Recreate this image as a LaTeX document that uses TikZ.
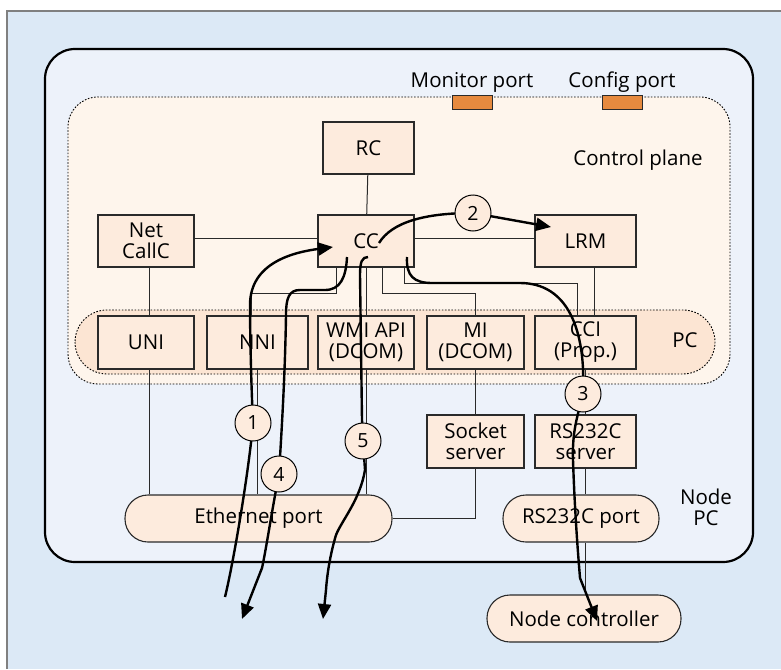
\documentclass[tikz,border=0pt]{standalone}
\usepackage{fontspec}
\setmainfont{Open Sans}
\usetikzlibrary{arrows.meta}
\definecolor{bgblue}{HTML}{DCE9F6}
\definecolor{pcblue}{HTML}{EDF2FA}
\definecolor{cream}{HTML}{FEF5EC}
\definecolor{lane}{HTML}{FCE5D3}
\definecolor{boxfill}{HTML}{FDEBDD}
\definecolor{portor}{HTML}{E68A3F}
\definecolor{edge}{HTML}{2A2A2A}
\tikzset{
  box/.style={draw=edge, fill=boxfill, line width=1.1pt, minimum height=52pt,
    align=center, inner sep=0pt},
  pill/.style={draw=edge, fill=boxfill, line width=1.1pt, minimum height=47pt,
    rounded corners=23pt, inner sep=0pt},
  numc/.style={circle, draw=black, fill=boxfill, line width=1pt,
    minimum size=36pt, inner sep=0pt, font=\fontsize{19.5}{21}\selectfont},
  portbox/.style={draw=edge, fill=portor, line width=0.9pt, minimum width=40pt,
    minimum height=14pt, inner sep=0pt},
  link/.style={draw=edge, line width=1pt},
  flow/.style={draw=black, line width=2.4pt},
  flowarr/.style={flow, -{Triangle[length=15pt,width=13pt]}},
  dotline/.style={draw=black, line width=0.9pt, dash pattern=on 1.6pt off 1.6pt},
}
\begin{document}
\begin{tikzpicture}[x=1pt,y=-1pt,font=\fontsize{20.5}{21}\selectfont]
\useasboundingbox (0,0) rectangle (781,669);

% outer panel
\fill[bgblue] (7,11) rectangle (781,669);
\draw[gray, line width=1.2pt] (7,669) -- (7,11) -- (781,11);

% node PC, control plane and the PC lane
\draw[line width=2.2pt, fill=pcblue, rounded corners=30pt] (45,49) rectangle (753,562);
\draw[dotline, fill=cream, rounded corners=30pt] (68,97) rectangle (730,384);
\draw[dotline, fill=lane, rounded corners=32pt] (75,310) rectangle (715,374);

% ports on the top edge of the control plane
\node[portbox] (mport) at (472,102) {};
\node[portbox] (cport) at (622,102) {};
\node (mportlbl) at (472,82) {Monitor port};
\node (cportlbl) at (622,82) {Config port};
\node (cplbl) at (638,160) {Control plane};
\node (pclbl) at (685,340) {PC};
\node[align=center] (npclbl) at (706,507) {Node\\PC};

% functional blocks
\node[box, minimum width=91pt] (rc) at (368.5,148) {RC};
\node[box, minimum width=96pt] (ncc) at (146,241) {Net\\CallC};
\node[box, minimum width=96pt] (cc) at (366,241) {CC};
\node[box, minimum width=101pt] (lrm) at (585.5,241) {LRM};
\node[box, minimum width=96pt, minimum height=53pt] (uni) at (146,342.5) {UNI};
\node[box, minimum width=101pt, minimum height=53pt] (nni) at (257.5,342.5) {NNI};
\node[box, minimum width=96pt, minimum height=53pt] (wmi) at (366,342.5) {WMI API\\(DCOM)};
\node[box, minimum width=97pt, minimum height=53pt] (mi) at (475.5,342.5) {MI\\(DCOM)};
\node[box, minimum width=101pt, minimum height=53pt] (cci) at (585.5,342.5) {CCI\\(Prop.)};
\node[box, minimum width=97pt, minimum height=53pt] (sock) at (475.5,441.5) {Socket\\server};
\node[box, minimum width=101pt, minimum height=53pt] (rss) at (585.5,441.5) {RS232C\\server};
\node[pill, minimum width=267pt] (eth) at (258.5,518.5) {Ethernet port};
\node[pill, minimum width=156pt] (rsp) at (581,518.5) {RS232C port};
\node[pill, minimum width=194pt] (nctl) at (584,618.5) {Node controller};

% internal links
\draw[link] (rc) -- (cc);
\draw[link] ([yshift=3pt]ncc.east) -- ([yshift=3pt]cc.west);
\draw[link] ([yshift=3pt]cc.east) -- ([yshift=3pt]lrm.west);
\draw[link] ([xshift=3pt]ncc.south) -- ([xshift=3pt]uni.north);
\draw[link] ([xshift=8.5pt]lrm.south) -- ([xshift=8.5pt]cci.north);
\draw[link] ([xshift=19pt]cc.south west) -- ++(0,26) -| ([xshift=-6pt]nni.north);
\draw[link] (cc.south) -- (wmi.north);
\draw[link] ([xshift=65pt]cc.south west) -- ++(0,26) -| (mi.north);
\draw[link] ([xshift=87pt]cc.south west) -- ++(0,16) -| ([xshift=-8.5pt]cci.north);
\draw[link] (cci.south) -- (rss.north);
\draw[link] ([xshift=3pt]uni.south) -- ([xshift=3pt]uni.south |- eth.north);
\draw[link] (nni.south) -- (nni.south |- eth.north);
\draw[link] (wmi.south) -- (wmi.south |- eth.north);
\draw[link] (mi.south) -- (sock.north);
\draw[link] (sock.south) |- (eth.east);
\draw[link] (rss.south) -- (rss.south |- rsp.north);
\draw[link] (rss.south |- rsp.south) -- (rss.south |- nctl.north);

% numbered message flows
\coordinate (p1) at (253,423);
\coordinate (p2) at (473,213);
\coordinate (p3) at (583,394);
\coordinate (p4) at (279,474);
\coordinate (p5) at (363,441);

\coordinate (f1a) at (225,597);
\coordinate (f1b) at (333,247);
\coordinate (f2a) at (379,243);
\coordinate (f2b) at (551,227);
\coordinate (f3a) at (407,257);
\coordinate (f3b) at (597,621);
\coordinate (f4a) at (347,257);
\coordinate (f4b) at (242,619);
\coordinate (f5a) at (368,257);
\coordinate (f5b) at (323,619);

\draw[flowarr] (f1a) .. controls (234,560) and (249,470) .. (p1)
  .. controls (251,380) and (250,330) .. (250,305)
  .. controls (250,262) and (295,252) .. (f1b);
\draw[flowarr] (f2a) .. controls (392,222) and (425,213) .. (p2) -- (f2b);
\draw[flowarr] (f3a) .. controls (406,276) and (414,283) .. (432,283) -- (520,283)
  .. controls (568,283) and (586,330) .. (p3)
  .. controls (578,415) and (572,430) .. (573,460)
  .. controls (575,520) and (579,565) .. (580,578) -- (f3b);
\draw[flowarr] (f4a) .. controls (346,278) and (340,290) .. (325,290) -- (300,290)
  .. controls (289,290) and (286,298) .. (286,315)
  .. controls (285,380) and (281,440) .. (p4)
  .. controls (272,510) and (266,550) .. (262,568) -- (f4b);
\draw[flowarr] (f5a) .. controls (362,257) and (360,262) .. (360,275) -- (362,420)
  -- (p5) -- (365,470)
  .. controls (360,500) and (342,520) .. (336,535)
  .. controls (330,555) and (327,575) .. (326,590) -- (f5b);

% step numbers on top of the flows
\node[numc] (c1) at (p1) {1};
\node[numc] (c2) at (p2) {2};
\node[numc] (c3) at (p3) {3};
\node[numc] (c4) at (p4) {4};
\node[numc] (c5) at (p5) {5};
\end{tikzpicture}
\end{document}
